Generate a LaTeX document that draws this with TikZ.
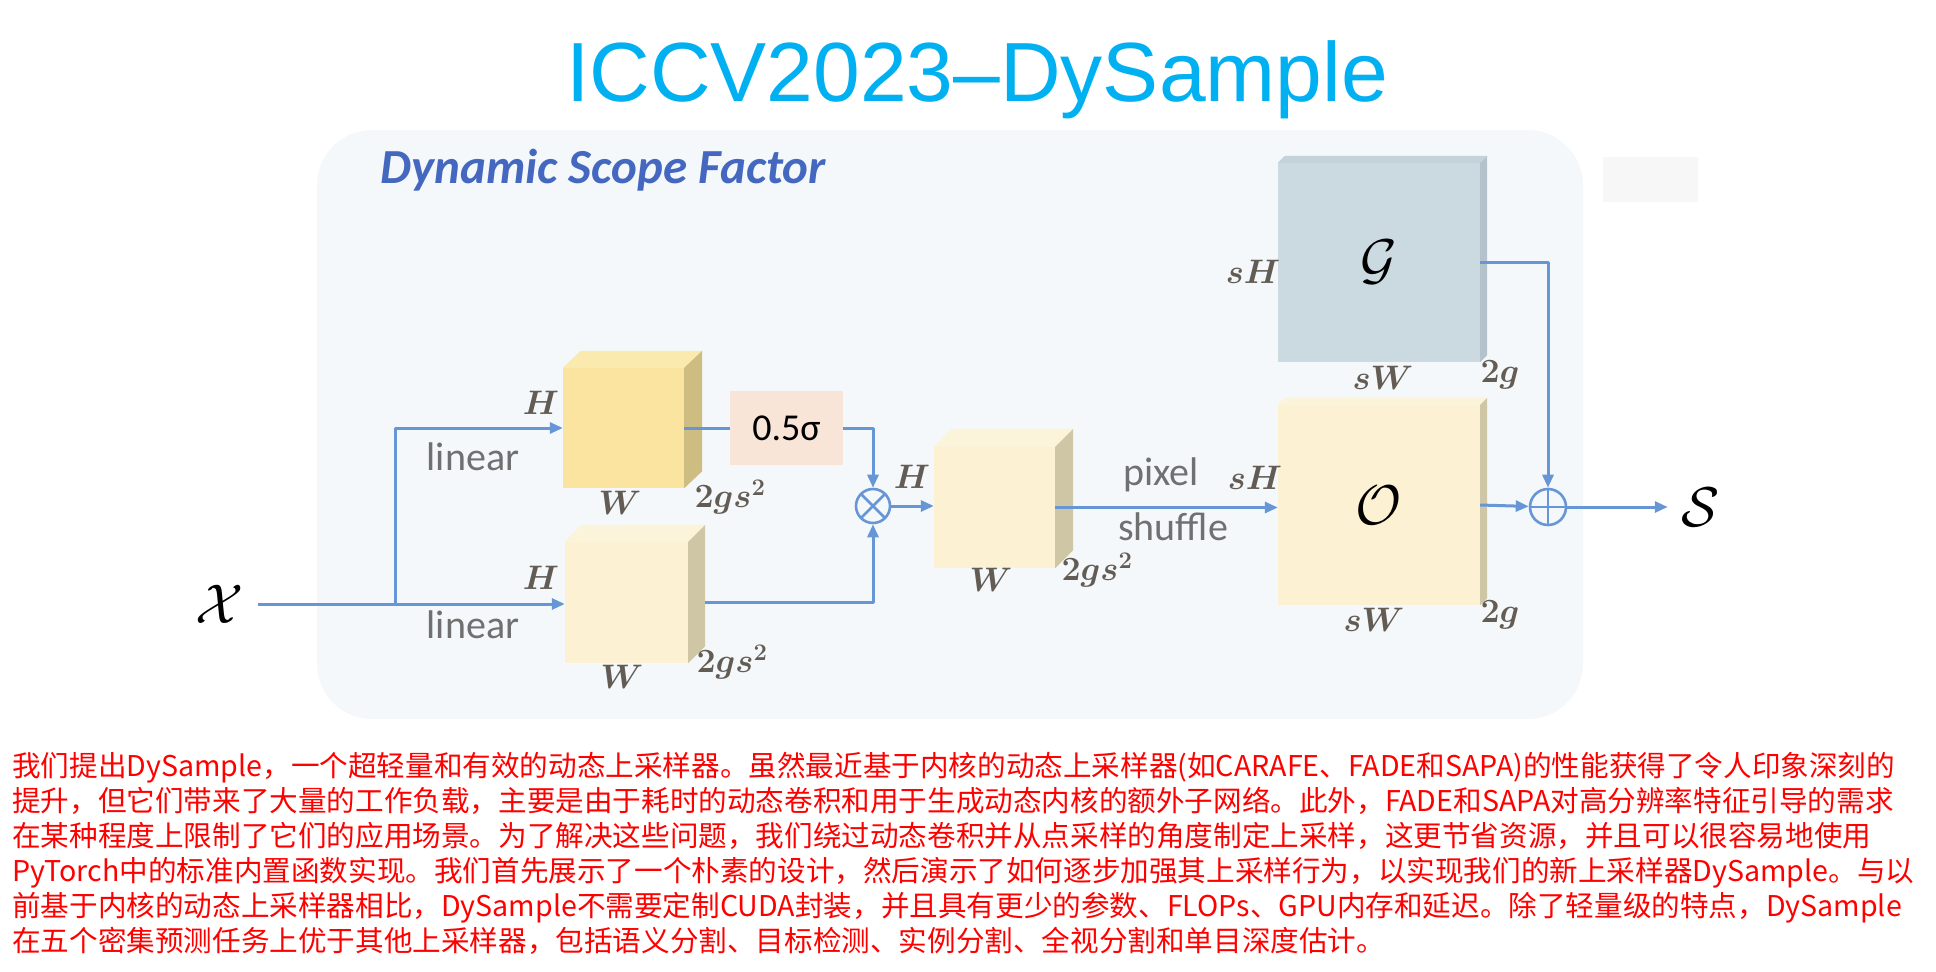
\RequirePackage{fix-cm}
\documentclass[tikz,border=0pt]{standalone}
\usepackage{fontspec}
\usepackage{amsmath}
\usetikzlibrary{arrows.meta}

\newfontfamily\cjk{Noto Sans CJK SC}
\newfontfamily\uifont{Carlito}
\newfontfamily\headfont{Liberation Sans}

\definecolor{flowblue}{RGB}{103,150,214}
\definecolor{panelbg}{RGB}{244,248,250}
\definecolor{patchgray}{RGB}{247,247,247}
\definecolor{titlecyan}{RGB}{0,176,240}
\definecolor{scopeblue}{RGB}{68,104,192}
\definecolor{dimgray}{RGB}{98,92,84}
\definecolor{lblgray}{RGB}{112,112,112}
\definecolor{darkfront}{RGB}{250,228,160}
\definecolor{darktop}{RGB}{251,234,174}
\definecolor{darkside}{RGB}{205,189,128}
\definecolor{lightfront}{RGB}{252,241,210}
\definecolor{lighttop}{RGB}{252,244,218}
\definecolor{lightside}{RGB}{207,198,166}
\definecolor{gridfront}{RGB}{203,217,225}
\definecolor{gridtop}{RGB}{196,210,218}
\definecolor{gridside}{RGB}{180,195,203}
\definecolor{sigfill}{RGB}{248,229,216}

\tikzset{
  feat/.style={fill=#1, inner sep=0pt},
  flow/.style={draw=flowblue, line width=3pt},
  lbl/.style={text=lblgray, font=\uifont\fontsize{40}{44}\selectfont},
  dimlbl/.style={text=dimgray, font=\fontsize{34}{38}\selectfont},
  sym/.style={font=\fontsize{56}{60}\selectfont},
  opcircle/.style={circle, draw=flowblue, line width=2.6pt, inner sep=0pt, minimum size=#1},
}

% top and side faces of a feature block (node, top colour, side colour, depth x, depth y)
\newcommand{\cubefaces}[5]{%
  \fill[#2] (#1.north west) -- ++(#4,-#5) -- ([shift={(#4,-#5)}]#1.north east) -- (#1.north east) -- cycle;
  \fill[#3] (#1.north east) -- ([shift={(#4,-#5)}]#1.north east) -- ([shift={(#4,-#5)}]#1.south east) -- (#1.south east) -- cycle;
}

\begin{document}
\begin{tikzpicture}[x=1pt, y=-1pt, line join=round, >={Triangle[length=13pt,width=11pt]}]
			% Canvas in pixels of the 1936x972 image, y pointing down
			\useasboundingbox (0,0) rectangle (1936,972);
			
			% Light panel behind the module, faint patch at its corner
			\fill[panelbg, rounded corners=55pt] (317,130) rectangle (1583,719);
			\fill[patchgray] (1603,157) rectangle (1698,202);
			
			% Headings
			\node[anchor=base, text=titlecyan, font=\headfont\fontsize{84}{90}\selectfont] (title) at (977,101) {ICCV2023–DySample};
			\node[anchor=base west, text=scopeblue, font=\uifont\bfseries\itshape\fontsize{49}{52}\selectfont] (scopetitle) at (377,183) {Dynamic Scope Factor};
			
			% Feature blocks (front faces)
			\node[feat=darkfront, minimum width=121, minimum height=120] (scopemap) at (623.5,428) {};
			\node[feat=lightfront, minimum width=123, minimum height=121] (offmap) at (626.5,602.5) {};
			\node[feat=lightfront, minimum width=121, minimum height=121] (prodmap) at (994.5,507.5) {};
			\node[feat=gridfront, minimum width=202, minimum height=199, sym] (grid) at (1379,262.5) {$\mathcal{G}$};
			\node[feat=lightfront, minimum width=202, minimum height=200, sym] (offset) at (1379,505) {$\mathcal{O}$};
			
			% Depth of the blocks
			\cubefaces{scopemap}{darktop}{darkside}{18}{17}
			\cubefaces{offmap}{lighttop}{lightside}{17}{17}
			\cubefaces{prodmap}{lighttop}{lightside}{18}{18}
			\cubefaces{grid}{gridtop}{gridside}{7}{7}
			\cubefaces{offset}{lighttop}{lightside}{7}{7}
			
			% Scope factor box and operators
			\node[fill=sigfill, minimum width=113, minimum height=74, inner sep=0pt, font=\uifont\fontsize{38}{40}\selectfont] (sig) at (786.5,428) {0.5σ};
			\node[opcircle=34, path picture={
				\draw[flowblue, line width=2.6pt] (path picture bounding box.north west) -- (path picture bounding box.south east)
				(path picture bounding box.north east) -- (path picture bounding box.south west);}] (mul) at (873,506) {};
			\node[opcircle=36, path picture={
				\draw[flowblue, line width=2.6pt] (path picture bounding box.north) -- (path picture bounding box.south)
				(path picture bounding box.west) -- (path picture bounding box.east);}] (add) at (1548,507) {};
			
			% Input and output symbols
			\node[sym, inner sep=14pt] (xin) at (220,604) {$\mathcal{X}$};
			\node[sym, inner sep=14pt] (out) at (1701,507) {$\mathcal{S}$};
			
			% Connectors
			\coordinate (split) at (395,604);
			\draw[flow, ->] (xin) -- (xin -| offmap.west);
			\draw[flow, ->] (split) |- (scopemap.west);
			\draw[flow] (scopemap.east) -- (sig.west);
			\draw[flow, ->] (sig.east) -| (mul);
			\draw[flow, ->] ([xshift=17]offmap.east) -| (mul);
			\draw[flow, ->] (mul) -- (mul -| prodmap.west);
			\draw[flow, ->] (prodmap.east) -- (prodmap.east -| offset.west);
			\draw[flow, ->] (grid.east) -| (add);
			\draw[flow, ->] (offset.east) -- (add);
			\draw[flow, ->] (add) -- (out);
			
			% Operation labels
			\node[lbl] (lintop) at (473,457) {linear};
			\node[lbl] (linbot) at (473,625) {linear};
			\node[lbl] (pixel) at (1161,475) {pixel};
			\node[lbl] (shuffle) at (1173,527) {shuffle};
			
			% Shape labels
			\node[dimlbl] (h1) at (541,403) {$\boldsymbol{H}$};
			\node[dimlbl] (w1) at (620,503) {$\boldsymbol{W}$};
			\node[dimlbl] (c1) at (730,497) {$\boldsymbol{2gs^2}$};
			\node[dimlbl] (h2) at (541,578) {$\boldsymbol{H}$};
			\node[dimlbl] (w2) at (622,677) {$\boldsymbol{W}$};
			\node[dimlbl] (c2) at (732,662) {$\boldsymbol{2gs^2}$};
			\node[dimlbl] (h3) at (912,477) {$\boldsymbol{H}$};
			\node[dimlbl] (w3) at (991,580) {$\boldsymbol{W}$};
			\node[dimlbl] (c3) at (1097,570) {$\boldsymbol{2gs^2}$};
			\node[dimlbl] (h4) at (1253,272) {$\boldsymbol{sH}$};
			\node[dimlbl] (w4) at (1383,378) {$\boldsymbol{sW}$};
			\node[dimlbl] (c4) at (1500,375) {$\boldsymbol{2g}$};
			\node[dimlbl] (h5) at (1255,478) {$\boldsymbol{sH}$};
			\node[dimlbl] (w5) at (1374,620) {$\boldsymbol{sW}$};
			\node[dimlbl] (c5) at (1500,615) {$\boldsymbol{2g}$};
			
			% Abstract
			\node[anchor=north west, inner sep=0pt, align=left, text=red, font=\cjk\fontsize{28.6}{35}\selectfont] (abstract) at (12,752) {%
				我们提出DySample，一个超轻量和有效的动态上采样器。虽然最近基于内核的动态上采样器(如CARAFE、FADE和SAPA)的性能获得了令人印象深刻的\\
				提升，但它们带来了大量的工作负载，主要是由于耗时的动态卷积和用于生成动态内核的额外子网络。此外，FADE和SAPA对高分辨率特征引导的需求\\
				在某种程度上限制了它们的应用场景。为了解决这些问题，我们绕过动态卷积并从点采样的角度制定上采样，这更节省资源，并且可以很容易地使用\\
				PyTorch中的标准内置函数实现。我们首先展示了一个朴素的设计，然后演示了如何逐步加强其上采样行为，以实现我们的新上采样器DySample。与以\\
				前基于内核的动态上采样器相比，DySample不需要定制CUDA封装，并且具有更少的参数、FLOPs、GPU内存和延迟。除了轻量级的特点，DySample\\
				在五个密集预测任务上优于其他上采样器，包括语义分割、目标检测、实例分割、全视分割和单目深度估计。};
		\end{tikzpicture}
\end{document}
